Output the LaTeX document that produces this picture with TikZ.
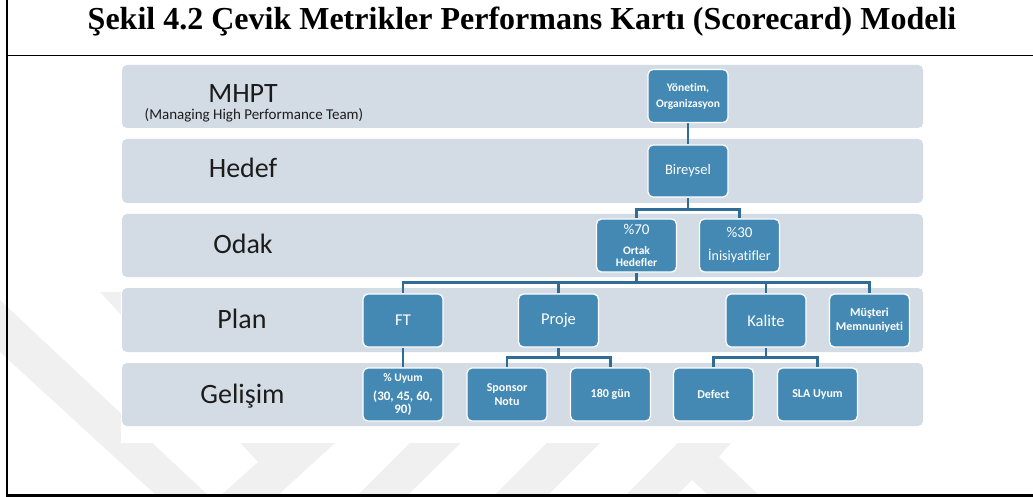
\documentclass[tikz,border=0pt]{standalone}
\usepackage{fontspec}
\setmainfont{Liberation Serif}
\setsansfont{Carlito}[Ligatures=NoCommon]

\definecolor{bandcol}{HTML}{D3DCE5}
\definecolor{boxcol}{HTML}{4389B4}
\definecolor{linecol}{HTML}{2F6D96}
\definecolor{wmark}{HTML}{F0F0F0}
\definecolor{inkcol}{HTML}{1C1C1C}

\newcommand\fsz[1]{\fontsize{#1}{#1}\selectfont}

\pgfdeclarelayer{front}
\pgfsetlayers{main,front}

\tikzset{
  band/.style={fill=bandcol, rounded corners=5pt},
  rowlabel/.style={font=\sffamily\fsz{28}, text=inkcol, anchor=base, inner sep=0pt},
  card/.style={draw=white, line width=1.3pt, fill=boxcol, rounded corners=5pt,
    minimum width=80pt, minimum height=53pt, inner sep=1pt, text=white, align=center,
    font=\sffamily\bfseries\fontsize{12}{14}\selectfont},
  bigcard/.style={card, font=\sffamily\fontsize{16.5}{18}\selectfont},
  conn/.style={draw=linecol, line width=2.4pt},
  frameline/.style={draw=black},
}

\begin{document}
\begin{tikzpicture}[x=1pt, y=-1pt]
\useasboundingbox (0,0) rectangle (1033,497);

% faint background mark behind the figure
\fill[wmark] (0,300) -- (210,497) -- (158,497) -- (0,352) -- cycle;
\fill[wmark] (100,292) -- (150,292) -- (360,420) -- (276,497) -- (219,497) -- (258,462) -- cycle;
\fill[wmark] (356,497) -- (406,497) -- (606,300) -- (552,300) -- cycle;
\fill[wmark] (493,497) -- (546,497) -- (743,300) -- (689,300) -- cycle;
\fill[wmark] (624,497) -- (820,300) -- (874,300) -- (731,443) -- (719,457) -- (761,497)
  -- (710,497) -- (692,480) -- (675,497) -- cycle;

% table frame
\draw[frameline, line width=2.2pt] (7,0) -- (7,497);
\draw[frameline, line width=1.8pt] (6,55.5) -- (1033,55.5);
\draw[frameline, line width=3pt] (6,495.5) -- (1033,495.5);

% caption
\node[font=\bfseries\fontsize{32}{32}\selectfont, anchor=base, inner sep=0pt] (title) at (522,30)
  {Şekil 4.2 Çevik Metrikler Performans Kartı (Scorecard) Modeli};

% white figure area and the five level bands
\fill[white] (121,58) rectangle (925,443);
\fill[band] (122,65) rectangle (923,128);
\fill[band] (122,139) rectangle (923,203);
\fill[band] (122,214) rectangle (923,277);
\fill[band] (122,288) rectangle (923,352);
\fill[band] (122,363) rectangle (923,426);

% level names
\node[rowlabel] (lmhpt) at (243,103) {MHPT};
\node[font=\sffamily\fsz{15}, text=inkcol, anchor=base, inner sep=0pt] (lsub) at (254,119.5)
  {(Managing High Performance Team)};
\node[rowlabel] (lhedef) at (243,178) {Hedef};
\node[rowlabel] (lodak) at (243,253.5) {Odak};
\node[rowlabel] (lplan) at (242,328) {Plan};
\node[rowlabel] (lgel) at (242.5,403) {Gelişim};

% cards, kept on the front layer so the connectors run underneath
\begin{pgfonlayer}{front}
\node[card, font=\sffamily\bfseries\fontsize{11.5}{14}\selectfont] (yon) at (688,96)
  {Yönetim,\\[2pt]Organizasyon};
\node[card, minimum height=52pt, font=\sffamily\fontsize{14.5}{16}\selectfont] (bir) at (688,171) {Bireysel};
\node[card] (o70) at (636.5,245.5)
  {\mdseries\fsz{15}\%70\\[6pt]\fsz{11.5}Ortak\\[-2pt]\fsz{11.5}Hedefler};
\node[card] (o30) at (739.5,245.5)
  {\mdseries\fsz{15}\%30\\[9pt]\mdseries\fsz{14}İnisiyatifler};
\node[bigcard] (ft) at (403,320.5) {FT};
\node[bigcard] (proje) at (558.5,320.5) {Proje};
\node[bigcard] (kal) at (766,320.5) {Kalite};
\node[card] (mus) at (869.5,320.5) {Müşteri\\Memnuniyeti};
\node[card] (uyum) at (403,394.5)
  {\fsz{11.5}\% Uyum\\[5.5pt]\fsz{13}(30, 45, 60,\\[-1pt]\fsz{13}90)};
\node[card] (spon) at (507,394.5) {Sponsor\\Notu};
\node[card] (gun) at (610.5,394.5) {180 gün};
\node[card] (def) at (713.5,394.5) {Defect};
\node[card] (sla) at (817.5,394.5) {SLA Uyum};
\end{pgfonlayer}

% connectors
\draw[conn] (yon.south) -- (bir.north);
\draw[conn] (bir.south) -- ++(0,12) coordinate (busodak);
\draw[conn] (o70.north) |- (busodak) -| (o30.north);
\draw[conn] (ft.north) -- ++(0,-11) coordinate (busplan) -| (mus.north);
\draw[conn] (o70.south) -- (o70.south |- busplan);
\draw[conn] (proje.north) -- (proje.north |- busplan);
\draw[conn] (kal.north) -- (kal.north |- busplan);
\draw[conn] (ft.south) -- (uyum.north);
\draw[conn] (proje.south) -- ++(0,10) coordinate (busproje);
\draw[conn] (spon.north) |- (busproje) -| (gun.north);
\draw[conn] (kal.south) -- ++(0,10) coordinate (buskal);
\draw[conn] (def.north) |- (buskal) -| (sla.north);
\end{tikzpicture}
\end{document}
